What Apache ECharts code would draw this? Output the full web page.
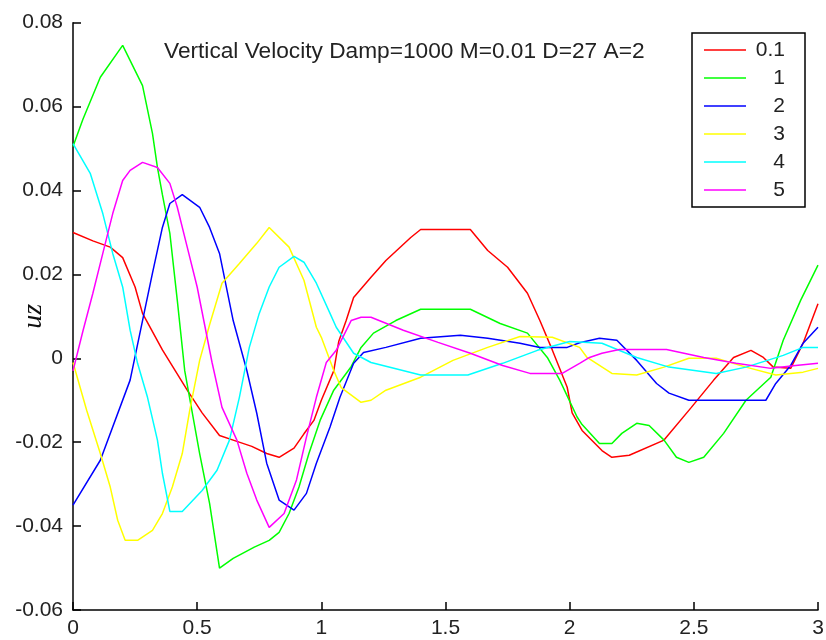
<!DOCTYPE html>
<html>
<head>
<meta charset="utf-8">
<script src="https://cdn.jsdelivr.net/npm/echarts@6/dist/echarts.min.js"></script>
<style>
  html, body { margin: 0; padding: 0; background: #fff; }
  #chart { width: 826px; height: 640px; }
</style>
</head>
<body>
<div id="chart"></div>
<script>
const titleText = "Vertical Velocity Damp=1000 M=0.01 D=27 A=2";
const seriesNames = ["0.1", "1", "2", "3", "4", "5"];
const seriesColors = ["#ff0000", "#00ff00", "#0000ff", "#ffff00", "#00ffff", "#ff00ff"];

// [x, uz] pairs
const red = [[0,0.030],[0.08,0.028],[0.15,0.0265],[0.2,0.024],[0.25,0.017],[0.28,0.0107],[0.36,0.002],[0.46,-0.0076],[0.52,-0.013],[0.59,-0.0184],[0.645,-0.0195],[0.72,-0.021],[0.78,-0.0227],[0.83,-0.0236],[0.89,-0.0214],[0.93,-0.018],[0.97,-0.0148],[1.0,-0.010],[1.05,-0.003],[1.07,0.004],[1.10,0.009],[1.13,0.0145],[1.2,0.0193],[1.26,0.0233],[1.36,0.0288],[1.4,0.0307],[1.6,0.0307],[1.67,0.0257],[1.75,0.0217],[1.83,0.0155],[1.88,0.009],[1.93,0.002],[1.99,-0.0069],[2.01,-0.013],[2.05,-0.0172],[2.13,-0.022],[2.17,-0.0236],[2.24,-0.0231],[2.38,-0.0195],[2.49,-0.0117],[2.58,-0.0052],[2.66,0.0002],[2.73,0.0019],[2.78,0.0002],[2.82,-0.0021],[2.89,-0.0024],[2.94,0.0036],[3.0,0.013]];
const green = [[0,0.0505],[0.04,0.057],[0.11,0.067],[0.2,0.0746],[0.28,0.065],[0.32,0.0536],[0.34,0.0455],[0.36,0.039],[0.39,0.0298],[0.42,0.0138],[0.45,-0.003],[0.51,-0.0227],[0.55,-0.0346],[0.59,-0.050],[0.645,-0.0477],[0.73,-0.045],[0.79,-0.0434],[0.83,-0.0415],[0.87,-0.037],[0.91,-0.0307],[0.95,-0.0227],[0.995,-0.0148],[1.05,-0.0076],[1.12,-0.002],[1.16,0.0026],[1.21,0.006],[1.3,0.009],[1.4,0.0117],[1.6,0.0117],[1.72,0.0083],[1.83,0.006],[1.91,0.0002],[1.96,-0.0052],[2.03,-0.014],[2.05,-0.0158],[2.12,-0.0203],[2.17,-0.0203],[2.21,-0.0179],[2.27,-0.0155],[2.32,-0.016],[2.38,-0.0195],[2.43,-0.0236],[2.48,-0.0248],[2.54,-0.0236],[2.62,-0.0179],[2.71,-0.01],[2.81,-0.0045],[2.86,0.0043],[2.93,0.0138],[3.0,0.0222]];
const blue = [[0,-0.035],[0.11,-0.0243],[0.23,-0.0052],[0.28,0.009],[0.32,0.0203],[0.36,0.0312],[0.39,0.0369],[0.44,0.039],[0.51,0.036],[0.55,0.0312],[0.59,0.025],[0.645,0.009],[0.70,-0.0029],[0.74,-0.0131],[0.78,-0.025],[0.83,-0.0338],[0.89,-0.0362],[0.94,-0.0322],[0.98,-0.025],[1.035,-0.0164],[1.075,-0.0093],[1.13,-0.0012],[1.17,0.0014],[1.26,0.0026],[1.40,0.0048],[1.56,0.0055],[1.67,0.0048],[1.80,0.0036],[1.88,0.0026],[1.99,0.0026],[2.04,0.0037],[2.12,0.0048],[2.19,0.0043],[2.27,-0.0005],[2.35,-0.006],[2.40,-0.0083],[2.48,-0.01],[2.79,-0.01],[2.83,-0.006],[2.89,-0.0017],[2.94,0.0036],[3.0,0.0074]];
const yellow = [[0,-0.001],[0.055,-0.0124],[0.11,-0.0227],[0.15,-0.0307],[0.18,-0.0386],[0.21,-0.0434],[0.26,-0.0434],[0.32,-0.041],[0.36,-0.037],[0.40,-0.0307],[0.44,-0.0227],[0.47,-0.0124],[0.51,-0.0005],[0.55,0.008],[0.60,0.0179],[0.67,0.0226],[0.74,0.0274],[0.79,0.0312],[0.87,0.0265],[0.93,0.0186],[0.98,0.0074],[1.0,0.005],[1.05,-0.0029],[1.08,-0.007],[1.16,-0.0105],[1.2,-0.01],[1.26,-0.0076],[1.40,-0.0045],[1.53,-0.0005],[1.67,0.0026],[1.80,0.0052],[1.93,0.005],[2.04,0.0026],[2.07,0.0002],[2.17,-0.0036],[2.27,-0.004],[2.38,-0.0021],[2.48,0],[2.59,0],[2.71,-0.0021],[2.83,-0.004],[2.94,-0.0033],[3.0,-0.0024]];
const cyan = [[0,0.0512],[0.07,0.044],[0.12,0.0345],[0.16,0.025],[0.20,0.017],[0.23,0.0067],[0.26,-0.0012],[0.30,-0.0093],[0.34,-0.0195],[0.36,-0.0274],[0.39,-0.0365],[0.44,-0.0365],[0.52,-0.0315],[0.58,-0.0267],[0.63,-0.0195],[0.67,-0.0093],[0.71,0.0026],[0.75,0.0107],[0.79,0.017],[0.83,0.0217],[0.89,0.0243],[0.93,0.0229],[0.98,0.0179],[1.035,0.0107],[1.06,0.0074],[1.13,0.0012],[1.20,-0.001],[1.40,-0.004],[1.59,-0.004],[1.73,-0.0012],[1.87,0.0019],[2.0,0.004],[2.13,0.0036],[2.27,0.0002],[2.40,-0.0021],[2.59,-0.0036],[2.71,-0.0021],[2.86,0.0007],[2.94,0.0026],[3.0,0.0026]];
const magenta = [[0,-0.003],[0.04,0.0065],[0.08,0.0155],[0.12,0.025],[0.16,0.0345],[0.20,0.0424],[0.23,0.0448],[0.28,0.0467],[0.34,0.0455],[0.39,0.0417],[0.42,0.036],[0.46,0.0265],[0.50,0.017],[0.53,0.008],[0.56,-0.001],[0.60,-0.0117],[0.66,-0.0195],[0.70,-0.0274],[0.74,-0.0338],[0.79,-0.0403],[0.85,-0.037],[0.90,-0.029],[0.94,-0.0188],[0.98,-0.0093],[1.02,-0.001],[1.06,0.0019],[1.12,0.009],[1.16,0.0098],[1.20,0.0098],[1.33,0.0067],[1.47,0.0038],[1.60,0.0012],[1.73,-0.0017],[1.84,-0.0036],[1.97,-0.0036],[2.04,-0.0012],[2.08,0.0002],[2.13,0.0012],[2.20,0.0021],[2.39,0.0021],[2.54,0.0002],[2.67,-0.0012],[2.81,-0.0024],[2.91,-0.0017],[3.0,-0.0012]];

const allData = [red, green, blue, yellow, cyan, magenta];
const font = "'Liberation Sans', Arial, sans-serif";

const chart = echarts.init(document.getElementById("chart"));

const option = {
  animation: false,
  backgroundColor: "#fff",
  title: {
    text: titleText,
    left: 164,
    top: 40,
    padding: 0,
    textStyle: { fontFamily: font, fontSize: 22.7, fontWeight: "normal", color: "#222" }
  },
  legend: {
    orient: "vertical",
    left: 692,
    top: 33,
    padding: [6.5, 20, 6.5, 12],
    itemWidth: 42,
    itemHeight: 14,
    itemGap: 7,
    icon: "path://M0,0H42V1.6H0Z",
    borderColor: "#000",
    borderWidth: 1.5,
    backgroundColor: "#fff",
    data: seriesNames,
    formatter: name => "{a|" + name + "}",
    textStyle: {
      rich: {
        a: { width: 34, align: "right", fontFamily: font, fontSize: 21, color: "#222" }
      }
    }
  },
  grid: { left: 73, right: 8, top: 22.7, bottom: 30, containLabel: false, outerBoundsMode: "none" },
  xAxis: {
    type: "value",
    min: 0,
    max: 3,
    interval: 0.5,
    axisLine: { onZero: false, lineStyle: { color: "#000", width: 1.5 } },
    axisTick: { show: true, inside: true, length: 8, lineStyle: { color: "#000", width: 1.5 } },
    axisLabel: { margin: 8, fontFamily: font, fontSize: 21, color: "#222" },
    splitLine: { show: false }
  },
  yAxis: {
    type: "value",
    min: -0.06,
    max: 0.08,
    interval: 0.02,
    name: "uz",
    nameLocation: "middle",
    nameGap: 25,
    nameMoveOverlap: false,
    nameTextStyle: { fontFamily: "'Liberation Serif', 'Times New Roman', serif", fontStyle: "italic", fontSize: 28, color: "#111" },
    axisLine: { show: true, onZero: false, lineStyle: { color: "#000", width: 1.5 } },
    axisTick: { show: true, inside: true, length: 8, lineStyle: { color: "#000", width: 1.5 } },
    axisLabel: {
      margin: 10,
      fontFamily: font,
      fontSize: 21,
      color: "#222",
      formatter: v => String(+v.toFixed(2))
    },
    splitLine: { show: false }
  },
  series: seriesNames.map((name, i) => ({
    name: name,
    type: "line",
    data: allData[i],
    symbol: "none",
    smooth: false,
    color: seriesColors[i],
    lineStyle: { color: seriesColors[i], width: 1.5 }
  }))
};

chart.setOption(option);
</script>
</body>
</html>
